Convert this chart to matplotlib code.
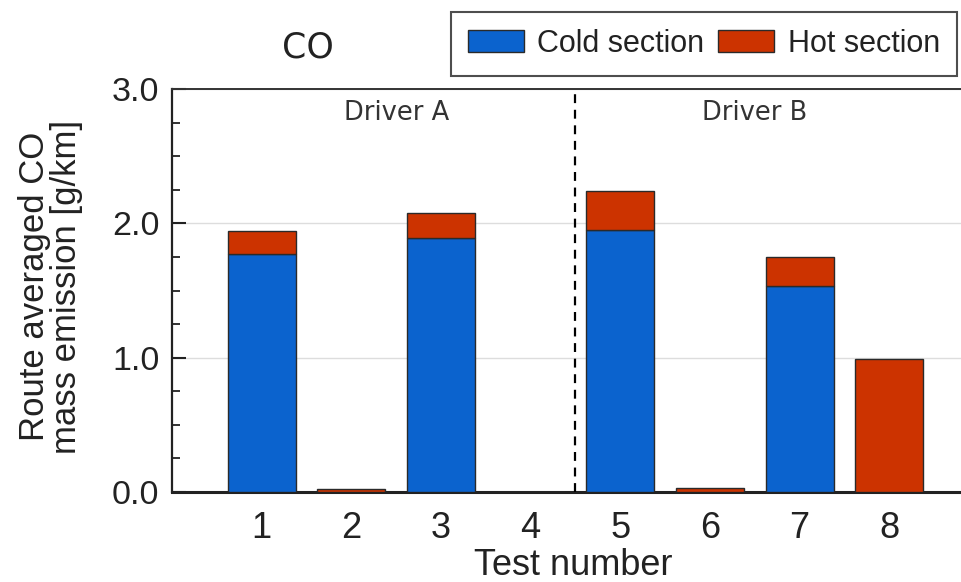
import matplotlib.pyplot as plt
from matplotlib.ticker import MultipleLocator, FormatStrFormatter

# route averaged CO per test, split into cold and hot sections [g/km]
tests = [1, 2, 3, 4, 5, 6, 7, 8]
cold_section = [1.77, 0.0, 1.89, 0.0, 1.95, 0.0, 1.53, 0.0]
hot_section = [0.17, 0.02, 0.19, 0.0, 0.29, 0.03, 0.22, 0.99]
drivers = ["Driver A", "Driver B"]
driver_centers = [2.5, 6.5]
driver_split = 4.5

cold_color = "#0b63ce"
hot_color = "#cc3300"

plt.rcParams["font.family"] = ["Liberation Sans", "DejaVu Sans"]

fig = plt.figure(figsize=(9.61, 5.82), dpi=100)
ax = fig.add_axes([0.179, 0.1546, 0.821, 0.6925])

ax.bar(tests, cold_section, width=0.76, color=cold_color,
       edgecolor="#2a2a2a", linewidth=1, zorder=3, label="Cold section")
ax.bar(tests, hot_section, width=0.76, bottom=cold_section, color=hot_color,
       edgecolor="#2a2a2a", linewidth=1, zorder=3, label="Hot section")

ax.axvline(driver_split, color="black", linestyle=(0, (4, 3)), linewidth=1.6, zorder=4)
for name, xc in zip(drivers, driver_centers):
    ax.text(xc, 2.82, name, ha="center", va="center", fontsize=18.5,
            family="DejaVu Sans", color="#333333")

ax.set_xlim(0, 8.8)
ax.set_ylim(0, 3.0)
ax.set_xticks(tests)
ax.yaxis.set_major_locator(MultipleLocator(1.0))
ax.yaxis.set_minor_locator(MultipleLocator(0.25))
ax.yaxis.set_major_formatter(FormatStrFormatter("%.1f"))
ax.tick_params(axis="y", which="major", direction="in", length=10, width=1.5,
               labelsize=24.5, pad=9, colors="#222222")
ax.tick_params(axis="y", which="minor", direction="in", length=6, width=1.3,
               colors="#222222")
ax.tick_params(axis="x", length=0, labelsize=26, pad=14, colors="#222222")

ax.grid(axis="y", which="major", color="#dddddd", linewidth=1, zorder=0)
ax.set_axisbelow(True)

ax.spines["right"].set_visible(False)
ax.spines["top"].set_color("#333333")
ax.spines["top"].set_linewidth(1.4)
ax.spines["left"].set_color("#222222")
ax.spines["left"].set_linewidth(1.6)
ax.spines["bottom"].set_color("#222222")
ax.spines["bottom"].set_linewidth(2.2)

ax.set_ylabel("Route averaged CO\nmass emission [g/km]", fontsize=25,
              linespacing=0.95, color="#222222")
ax.yaxis.set_label_coords(-0.113, 0.51)
ax.set_xlabel("Test number", fontsize=26, color="#222222")
ax.xaxis.set_label_coords(0.508, -0.139)

fig.text(0.32, 0.919, "CO", fontsize=25, family="DejaVu Sans",
         ha="center", va="center", color="#222222")

leg = fig.legend(loc="upper left", bbox_to_anchor=(451 / 961, 1 - 12 / 582),
                 ncol=2, fontsize=22, frameon=True, fancybox=False,
                 edgecolor="#222222", handlelength=1.83, handleheight=0.72,
                 handletextpad=0.45, columnspacing=0.45, borderpad=0.55,
                 borderaxespad=0)
leg.get_frame().set_linewidth(1.5)
for t in leg.get_texts():
    t.set_color("#222222")

fig.savefig("out.png", dpi=100)
